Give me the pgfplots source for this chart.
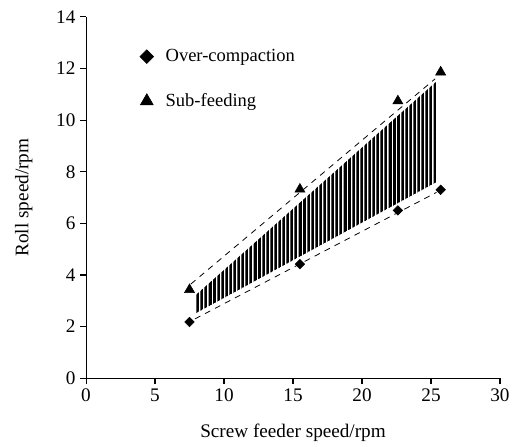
\documentclass[border=0pt]{standalone}
\usepackage{pgfplots}
\pgfplotsset{compat=1.18}
\usepackage{fontspec}
\setmainfont{Liberation Serif}
\usetikzlibrary{patterns.meta}
\pgfdeclareplotmark{bdiamond}{\pgfpathmoveto{\pgfqpoint{0pt}{\pgfplotmarksize}}%
  \pgfpathlineto{\pgfqpoint{\pgfplotmarksize}{0pt}}%
  \pgfpathlineto{\pgfqpoint{0pt}{-\pgfplotmarksize}}%
  \pgfpathlineto{\pgfqpoint{-\pgfplotmarksize}{0pt}}%
  \pgfpathclose\pgfusepathqfillstroke}
\begin{document}
\begin{tikzpicture}
\path (-65pt,-45pt) rectangle (320.25pt,285.75pt);
\begin{axis}[
  scale only axis,
  width=312.75pt, height=273pt,
  xmin=0, xmax=30, ymin=0, ymax=14,
  axis x line=bottom, axis y line=left,
  axis line style={-, line width=0.8pt},
  xtick={0,5,...,30}, ytick={0,2,...,14},
  tick align=outside, major tick length=4.5pt,
  tick style={black, line width=0.8pt},
  /pgf/number format/assume math mode=true,
  ticklabel style={font=\fontsize{14.5}{16}\selectfont},
  label style={font=\fontsize{14.5}{16}\selectfont},
  xlabel={Screw feeder speed/rpm},
  ylabel={Roll speed/rpm},
  xlabel style={yshift=-10pt},
  ylabel style={yshift=11pt},
  clip=false,
  legend style={draw=none, fill=none, at={(axis cs:3.6,12.95)}, anchor=north west,
    font=\fontsize{14}{16}\selectfont, row sep=18.5pt, legend cell align=left,
    /tikz/every odd column/.append style={column sep=7pt}},
]
% shaded band
\addplot[draw=none, pattern={Lines[angle=90, distance=1pt, line width=0.45pt]}, forget plot]
  coordinates {(7.9,2.5) (7.9,3.2) (25.4,11.5) (25.4,7.6)} -- cycle;
% dashed fit lines
\addplot[black, dash pattern=on 4.5pt off 4pt, line width=0.6pt, forget plot]
  coordinates {(7.6,3.65) (25.3,11.6)};
\addplot[black, dash pattern=on 4.5pt off 4pt, line width=0.6pt, forget plot]
  coordinates {(7.9,2.3) (25.4,7.2)};
% data
\addplot[only marks, mark=bdiamond, mark size=3.6pt, black, legend image post style={mark size=5.2pt}]
  coordinates {(7.5,2.18) (15.5,4.42) (22.6,6.5) (25.7,7.3)};
\addlegendentry{Over-compaction}
\addplot[only marks, mark=triangle*, mark size=4.4pt, black, legend image post style={mark size=5.6pt}]
  coordinates {(7.5,3.43) (15.5,7.32) (22.6,10.74) (25.7,11.86)};
\addlegendentry{Sub-feeding}
\end{axis}
\end{tikzpicture}
\end{document}
